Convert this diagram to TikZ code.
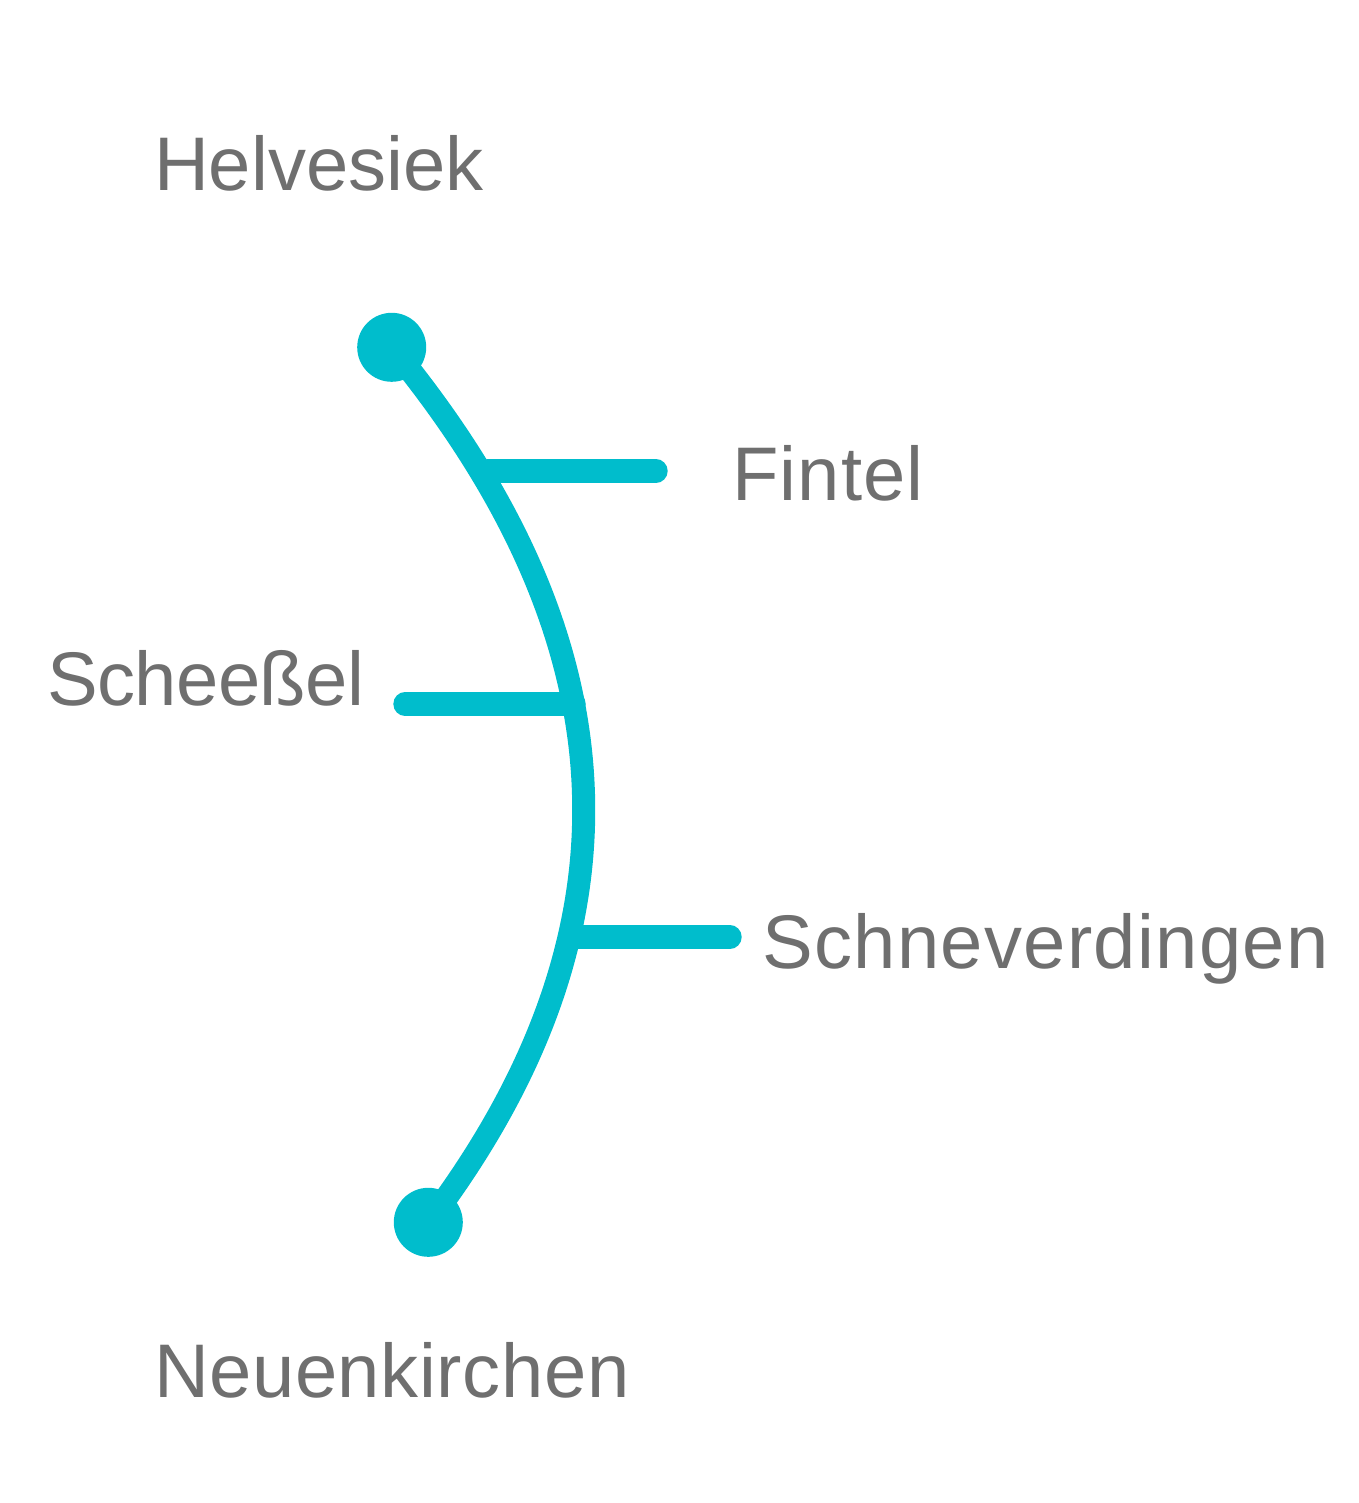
\documentclass[tikz,border=0pt]{standalone}
\usepackage{fontspec}
\setmainfont{Liberation Sans}
\definecolor{teal}{RGB}{0,189,204}
\definecolor{txt}{RGB}{111,111,111}
\begin{document}
\begin{tikzpicture}[x=1pt,y=-1pt,
  route/.style={draw=teal,line width=23pt,line cap=round},
  stub/.style={draw=teal,line width=23.4pt,line cap=round},
  stop/.style={circle,fill=teal,minimum size=69pt,inner sep=0pt},
  lbl/.style={anchor=base west,inner sep=0pt,outer sep=0pt,text=txt,font=\fontsize{76}{80}\selectfont}]
\useasboundingbox (0,0) rectangle (1358,1503);
% tick start points on the route
\coordinate (fA) at (488,471);
\coordinate (fB) at (656,471);
\coordinate (sA) at (405,704);
\coordinate (sB) at (574,704);
\coordinate (nA) at (570,937);
\coordinate (nB) at (730,937);
\draw[stub] (fA) -- (fB);
\draw[stub] (sA) -- (sB);
\draw[stub] (nA) -- (nB);
\node[stop] (top) at (391.7,347.3) {};
\node[stop] (bot) at (428.3,1222.3) {};
\draw[route] (top.center) .. controls (649,660) and (634,950) .. (bot.center);
\node[lbl] (helv) at (154,191) {Helvesiek};
\node[lbl] (fint) at (732,500) {\addfontfeature{LetterSpace=1.6}Fintel};
\node[lbl] (schee) at (47,705) {\addfontfeature{LetterSpace=-0.7}Scheeßel};
\node[lbl] (schn) at (762.5,968) {\addfontfeature{LetterSpace=1.7}Schneverdingen};
\node[lbl] (neu) at (154,1397) {\addfontfeature{LetterSpace=0.8}Neuenkirchen};
\end{tikzpicture}
\end{document}
